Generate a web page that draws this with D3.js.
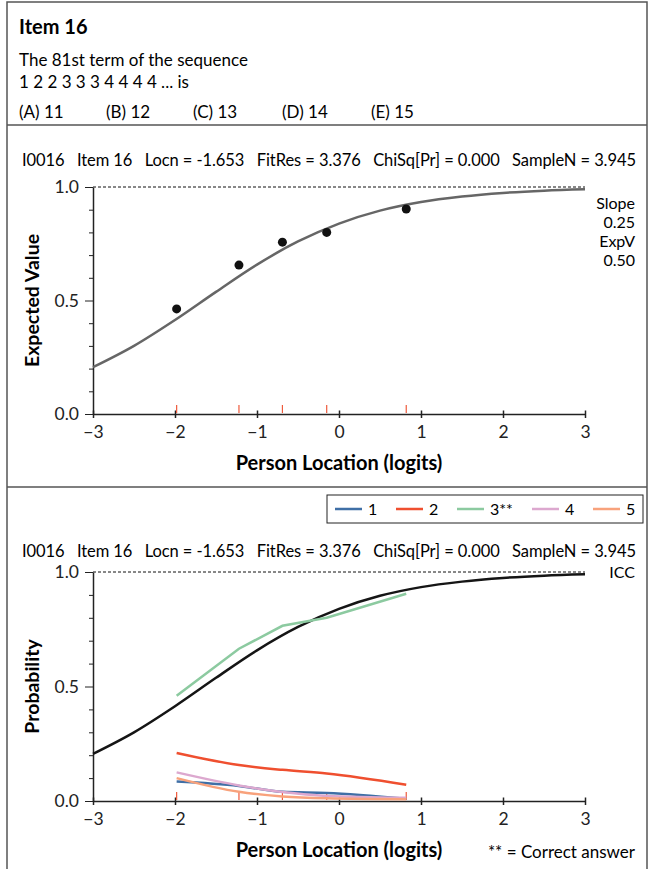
<!DOCTYPE html>
<html>
<head>
<meta charset="utf-8">
<script src="https://cdn.jsdelivr.net/npm/d3@7"></script>
<style>
  body { margin: 0; background: #fff; }
  svg { font-family: Lato, "Open Sans", sans-serif; }
  .axis text { font-family: Lato, sans-serif; font-size: 17.5px; fill: #222; }
</style>
</head>
<body>
<div id="chart"></div>
<script>
// values
var theta = [-3, -2.5, -2, -1.5, -1, -0.5, 0, 0.5, 1, 1.5, 2, 2.5, 3];
var expected = [0.206, 0.30, 0.414, 0.538, 0.658, 0.760, 0.839, 0.896, 0.934, 0.958, 0.974, 0.984, 0.990];
var groupLocs = [-1.98, -1.22, -0.69, -0.15, 0.82];
var observed = [0.463, 0.656, 0.757, 0.80, 0.903];
var optionNames = ['1', '2', '3**', '4', '5'];
var optionColors = ['#3f6fa6', '#ef4f2f', '#8ccaa0', '#dca8cf', '#f8a27c'];
var optionProps = [
  [0.085, 0.066, 0.040, 0.035, 0.010],
  [0.210, 0.157, 0.136, 0.120, 0.071],
  [0.460, 0.665, 0.765, 0.800, 0.905],
  [0.125, 0.068, 0.039, 0.022, 0.014],
  [0.100, 0.040, 0.020, 0.012, 0.008]
];
var titleText = 'I0016   Item 16   Locn = -1.653   FitRes = 3.376   ChiSq[Pr] = 0.000   SampleN = 3.945';
var xTicks = [-3, -2, -1, 0, 1, 2, 3];
var yMajor = [0, 0.5, 1];
var yMinor = d3.range(0, 11).map(function(i) { return i / 10; });

var W = 656, H = 869;
var svg = d3.select('#chart').append('svg')
  .attr('width', W)
  .attr('height', H);

// frame
var frame = svg.append('g').attr('fill', 'none').attr('stroke', '#555').attr('stroke-width', 1.5);
frame.append('path').attr('d', 'M7,' + (H + 2) + 'V2H647V' + (H + 2));
frame.append('line').attr('x1', 7).attr('x2', 647).attr('y1', 125).attr('y2', 125);
frame.append('line').attr('x1', 7).attr('x2', 647).attr('y1', 487).attr('y2', 487);

// question text
svg.append('text').attr('x', 19).attr('y', 34).attr('font-size', 20).attr('font-weight', 'bold').text('Item 16');
svg.append('text').attr('x', 19).attr('y', 66).attr('font-size', 17).text('The 81st term of the sequence');
svg.append('text').attr('x', 19).attr('y', 88).attr('font-size', 17).text('1 2 2 3 3 3 4 4 4 4 ... is');
var opts = ['(A) 11', '(B) 12', '(C) 13', '(D) 14', '(E) 15'];
var optX = [19, 106, 193, 282, 371];
opts.forEach(function(o, i) {
  svg.append('text').attr('x', optX[i]).attr('y', 118).attr('font-size', 17).text(o);
});

var x = d3.scaleLinear().domain([-3, 3]).range([93, 585]);

function panel(top, bottom, ylabel, titleY) {
  var y = d3.scaleLinear().domain([0, 1]).range([bottom, top]);
  var g = svg.append('g');

  g.append('text').attr('x', 22).attr('y', titleY).attr('font-size', 16.5)
    .attr('textLength', 614).attr('lengthAdjust', 'spacing')
    .style('white-space', 'pre').text(titleText);

  // dashed 1.0 line
  g.append('line').attr('x1', x(-3)).attr('x2', x(3)).attr('y1', y(1)).attr('y2', y(1))
    .attr('stroke', '#111').attr('stroke-dasharray', '3,2').attr('stroke-width', 1);

  var xAxis = g.append('g').attr('class', 'axis').attr('transform', 'translate(0,' + bottom + ')')
    .call(d3.axisBottom(x).tickValues(xTicks).tickSize(0).tickPadding(12)
      .tickFormat(function(d) { return d < 0 ? '\u2212' + Math.abs(d) : d; }));
  xAxis.attr('font-family', null).attr('font-size', null);
  xAxis.select('.domain').attr('stroke', '#222').attr('stroke-width', 1.5);
  xAxis.selectAll('.tick').append('line').attr('y1', -3.5).attr('y2', 4)
    .attr('stroke', '#222').attr('stroke-width', 1.5);

  var yAxis = g.append('g').attr('class', 'axis').attr('transform', 'translate(' + x(-3) + ',0)')
    .call(d3.axisLeft(y).tickValues(yMinor).tickSize(0).tickPadding(14)
      .tickFormat(function(d) { return yMajor.indexOf(d) >= 0 ? d3.format('.1f')(d) : ''; }));
  yAxis.attr('font-family', null).attr('font-size', null);
  yAxis.select('.domain').attr('stroke', '#222').attr('stroke-width', 1.5);
  yAxis.selectAll('.tick').append('line')
    .attr('x2', function(d) { return yMajor.indexOf(d) >= 0 ? -8 : -4; })
    .attr('stroke', '#222').attr('stroke-width', 1);

  // class interval marks
  g.selectAll('.grp').data(groupLocs).enter().append('line')
    .attr('x1', function(d) { return x(d); }).attr('x2', function(d) { return x(d); })
    .attr('y1', bottom - 1).attr('y2', bottom - 9)
    .attr('stroke', '#ef5a3c').attr('stroke-width', 1.2);

  g.append('text').attr('transform', 'translate(39,' + ((top + bottom) / 2) + ') rotate(-90)')
    .attr('text-anchor', 'middle').attr('font-size', 19.5).attr('font-weight', 'bold').text(ylabel);
  g.append('text').attr('x', x(0)).attr('y', bottom + 56).attr('text-anchor', 'middle')
    .attr('font-size', 20).attr('font-weight', 'bold').text('Person Location (logits)');

  return { g: g, y: y };
}

// top panel: expected value curve
var p1 = panel(187, 414, 'Expected Value', 166);
var line1 = d3.line().x(function(d, i) { return x(theta[i]); }).y(function(d) { return p1.y(d); })
  .curve(d3.curveMonotoneX);
p1.g.append('path').datum(expected).attr('d', line1).attr('fill', 'none')
  .attr('stroke', '#666').attr('stroke-width', 2.5);
p1.g.selectAll('.dot').data(observed).enter().append('circle')
  .attr('cx', function(d, i) { return x(groupLocs[i]); })
  .attr('cy', function(d) { return p1.y(d); })
  .attr('r', 4.5).attr('fill', '#111');
['Slope', '0.25', 'ExpV', '0.50'].forEach(function(t, i) {
  p1.g.append('text').attr('x', 635).attr('y', 209 + i * 19).attr('text-anchor', 'end')
    .attr('font-size', 16).text(t);
});

// bottom panel: ICC + distractor curves
var p2 = panel(572, 801, 'Probability', 557);
var line2 = d3.line().x(function(d, i) { return x(theta[i]); }).y(function(d) { return p2.y(d); })
  .curve(d3.curveMonotoneX);
p2.g.append('path').datum(expected).attr('d', line2).attr('fill', 'none')
  .attr('stroke', '#151515').attr('stroke-width', 2.5);
p2.g.append('text').attr('x', 635).attr('y', 578).attr('text-anchor', 'end').attr('font-size', 16).text('ICC');

var optLine = d3.line().x(function(d, i) { return x(groupLocs[i]); }).y(function(d) { return p2.y(d); });
optionProps.forEach(function(vals, k) {
  p2.g.append('path').datum(vals)
    .attr('d', optLine.curve(k === 2 ? d3.curveLinear : d3.curveMonotoneX))
    .attr('fill', 'none').attr('stroke', optionColors[k]).attr('stroke-width', 2.5);
});
p2.g.append('text').attr('x', 635).attr('y', 858).attr('text-anchor', 'end').attr('font-size', 17)
  .text('** = Correct answer');

// legend
var lg = svg.append('g');
lg.append('rect').attr('x', 327).attr('y', 495).attr('width', 316).attr('height', 28)
  .attr('fill', '#fff').attr('stroke', '#222').attr('stroke-width', 1);
var legX = [335, 396, 457, 532, 593];
optionNames.forEach(function(n, i) {
  lg.append('line').attr('x1', legX[i]).attr('x2', legX[i] + 27).attr('y1', 509).attr('y2', 509)
    .attr('stroke', optionColors[i]).attr('stroke-width', 2.5);
  lg.append('text').attr('x', legX[i] + 33).attr('y', 515).attr('font-size', 16).text(n);
});
</script>
</body>
</html>
